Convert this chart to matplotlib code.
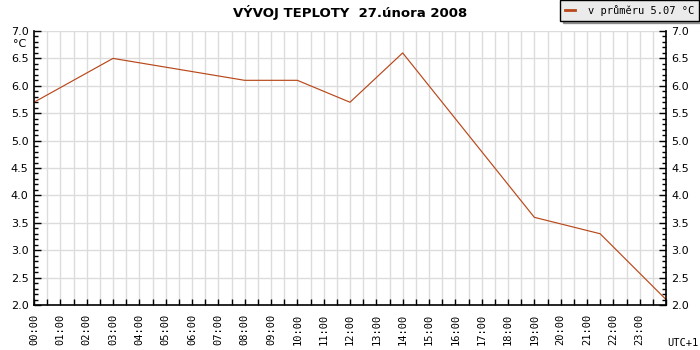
import matplotlib
matplotlib.use('Agg')
import matplotlib.pyplot as plt
from matplotlib.ticker import MultipleLocator, FixedLocator

# data
hours = [0, 3, 8, 10, 12, 14, 19, 21.5, 24]
temps = [5.7, 6.5, 6.1, 6.1, 5.7, 6.6, 3.6, 3.3, 2.1]
hour_labels = [f"{h:02d}:00" for h in range(24)]
title = "VÝVOJ TEPLOTY  27.února 2008"
legend_label = "v průměru 5.07 °C"

line_color = '#b8481a'
grid_color = '#dcdcdc'

fig = plt.figure(figsize=(7, 3.5), dpi=100, facecolor='white')
ax = fig.add_axes([34 / 700, 1 - 305 / 350, 632 / 700, 274 / 350])

ax.plot(hours, temps, color=line_color, linewidth=0.85, label=legend_label)

ax.set_xlim(0, 24)
ax.set_ylim(2.0, 7.0)

# x: ticks every half hour, labels on whole hours
xt = [i * 0.5 for i in range(49)]
ax.xaxis.set_major_locator(FixedLocator(xt))
ax.set_xticklabels([hour_labels[int(t)] if t == int(t) and t < 24 else '' for t in xt],
                   rotation=90, fontsize=7.5, family='DejaVu Sans Mono')
ax.tick_params(axis='x', direction='in', length=4, width=1, pad=6, colors='black')

ax.yaxis.set_major_locator(MultipleLocator(0.5))
ax.yaxis.set_minor_locator(MultipleLocator(0.1))
ax.yaxis.set_major_formatter(matplotlib.ticker.FormatStrFormatter('%.1f'))
ax.tick_params(axis='y', which='major', direction='in', length=5, width=1,
               left=True, right=True, labelleft=True, labelright=True,
               labelsize=8, pad=4)
ax.tick_params(axis='y', which='minor', direction='in', length=3, width=1,
               left=True, right=True)

ax.grid(True, color=grid_color, linewidth=1)
ax.set_axisbelow(True)
ax.spines['top'].set_visible(False)
for s in ['left', 'right', 'bottom']:
    ax.spines[s].set_linewidth(1.2)
    ax.spines[s].set_color('black')

fig.text(0.5, 1 - 12 / 350, title, ha='center', va='center',
         fontsize=9.5, fontweight='bold')
fig.text(20 / 700, 1 - 44 / 350, '°C', ha='center', va='center', fontsize=8)
fig.text(683 / 700, 1 - 343 / 350, 'UTC+1', ha='center', va='center',
         fontsize=7.5, family='DejaVu Sans Mono')

leg = fig.legend(loc='upper right', bbox_to_anchor=(0.998, 0.999),
                 frameon=True, fancybox=False, shadow=True,
                 prop={'family': 'DejaVu Sans Mono', 'size': 7.5},
                 handlelength=1.0, handletextpad=1.2, borderpad=0.45,
                 borderaxespad=0)
leg.get_frame().set_facecolor('#ebebeb')
leg.get_frame().set_edgecolor('black')
leg.get_frame().set_alpha(1)
leg.get_lines()[0].set_linewidth(2)

fig.savefig('out.png', dpi=100)
